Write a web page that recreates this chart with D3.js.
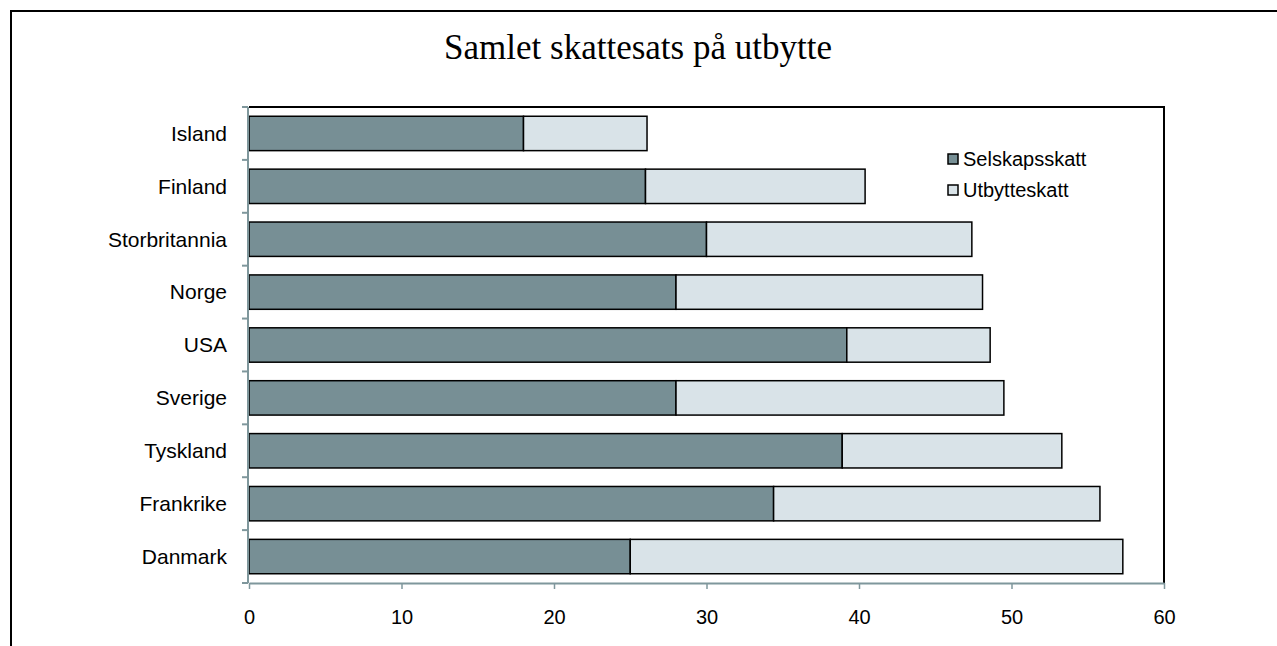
<!DOCTYPE html>
<html>
<head>
<meta charset="utf-8">
<script src="https://cdn.jsdelivr.net/npm/d3@7"></script>
<style>
  html, body { margin: 0; padding: 0; background: #fff; }
  svg { display: block; }
</style>
</head>
<body>
<svg id="chart" width="1277" height="646"></svg>
<script>
// Total tax rate on dividends: corporate tax + dividend tax, by country
const countries = ["Island", "Finland", "Storbritannia", "Norge", "USA", "Sverige", "Tyskland", "Frankrike", "Danmark"];
const selskapsskatt = [18, 26, 30, 28, 39.2, 28, 38.9, 34.4, 25];
const utbytteskatt = [8.1, 14.4, 17.4, 20.1, 9.4, 21.5, 14.4, 21.4, 32.3];
const seriesNames = ["Selskapsskatt", "Utbytteskatt"];
const xTicks = [0, 10, 20, 30, 40, 50, 60];
const title = "Samlet skattesats på utbytte";

const colors = ["#778f95", "#d9e3e8"];
const axisColor = "#7f979c";
const sansFont = "'Liberation Sans', Arial, sans-serif";
const serifFont = "'Liberation Serif', 'Times New Roman', serif";

const svg = d3.select("#chart");

// Outer chart frame (runs off the right and bottom edges)
svg.append("path")
  .attr("d", "M11,700 V11 H1300")
  .attr("fill", "none")
  .attr("stroke", "#000")
  .attr("stroke-width", 2);

svg.append("text")
  .attr("x", 638)
  .attr("y", 47)
  .attr("dy", "0.35em")
  .attr("text-anchor", "middle")
  .attr("font-family", serifFont)
  .attr("font-size", 35)
  .attr("fill", "#000")
  .text(title);

const plot = { left: 249, right: 1164, top: 107, bottom: 583 };

const x = d3.scaleLinear().domain([0, 60]).range([plot.left, plot.right]);
const y = d3.scaleBand().domain(countries).range([plot.top, plot.bottom])
  .paddingInner(0.35).paddingOuter(0.175);

// Plot area border: top and right
svg.append("path")
  .attr("d", `M${plot.left},${plot.top} H${plot.right} V${plot.bottom}`)
  .attr("fill", "none")
  .attr("stroke", "#000")
  .attr("stroke-width", 2);

// Stacked data
const rows = countries.map((c, i) => ({ country: c, Selskapsskatt: selskapsskatt[i], Utbytteskatt: utbytteskatt[i] }));
const stacked = d3.stack().keys(seriesNames)(rows);

svg.append("g").selectAll("g")
  .data(stacked)
  .join("g")
  .attr("fill", (d, i) => colors[i])
  .selectAll("rect")
  .data(d => d)
  .join("rect")
  .attr("x", d => x(d[0]))
  .attr("y", d => y(d.data.country))
  .attr("width", d => x(d[1]) - x(d[0]))
  .attr("height", y.bandwidth())
  .attr("stroke", "#000")
  .attr("stroke-width", 1.5);

// Y axis: line with ticks at category boundaries
const yAxisG = svg.append("g");
yAxisG.append("line")
  .attr("x1", plot.left - 1).attr("x2", plot.left - 1)
  .attr("y1", plot.top).attr("y2", plot.bottom)
  .attr("stroke", axisColor).attr("stroke-width", 2);
const boundaries = d3.range(countries.length + 1).map(i => plot.top + i * (plot.bottom - plot.top) / countries.length);
yAxisG.selectAll("line.tick")
  .data(boundaries)
  .join("line")
  .attr("class", "tick")
  .attr("x1", plot.left - 7).attr("x2", plot.left - 1)
  .attr("y1", d => d).attr("y2", d => d)
  .attr("stroke", axisColor).attr("stroke-width", 2);
yAxisG.selectAll("text")
  .data(countries)
  .join("text")
  .attr("x", 227)
  .attr("y", d => y(d) + y.bandwidth() / 2)
  .attr("dy", "0.35em")
  .attr("text-anchor", "end")
  .attr("font-family", sansFont)
  .attr("font-size", 21)
  .attr("fill", "#000")
  .text(d => d);

// X axis
const xAxis = d3.axisBottom(x).tickValues(xTicks).tickSize(6).tickPadding(21).tickSizeOuter(0);
const xAxisG = svg.append("g")
  .attr("transform", `translate(0,${plot.bottom})`)
  .call(xAxis);
xAxisG.select(".domain").attr("stroke", axisColor).attr("stroke-width", 2);
xAxisG.selectAll(".tick line").attr("stroke", axisColor).attr("stroke-width", 1.5);
xAxisG.selectAll(".tick text")
  .attr("font-family", sansFont)
  .attr("font-size", 20)
  .attr("fill", "#000");

// Legend
const legend = svg.append("g").attr("transform", "translate(948,154)");
seriesNames.forEach((name, i) => {
  const g = legend.append("g").attr("transform", `translate(0,${i * 31})`);
  g.append("rect")
    .attr("x", 0).attr("y", 0)
    .attr("width", 10).attr("height", 10)
    .attr("fill", colors[i])
    .attr("stroke", "#000")
    .attr("stroke-width", 1.5);
  g.append("text")
    .attr("x", 15)
    .attr("y", 5)
    .attr("dy", "0.35em")
    .attr("font-family", sansFont)
    .attr("font-size", 20)
    .attr("fill", "#000")
    .text(name);
});
</script>
</body>
</html>
